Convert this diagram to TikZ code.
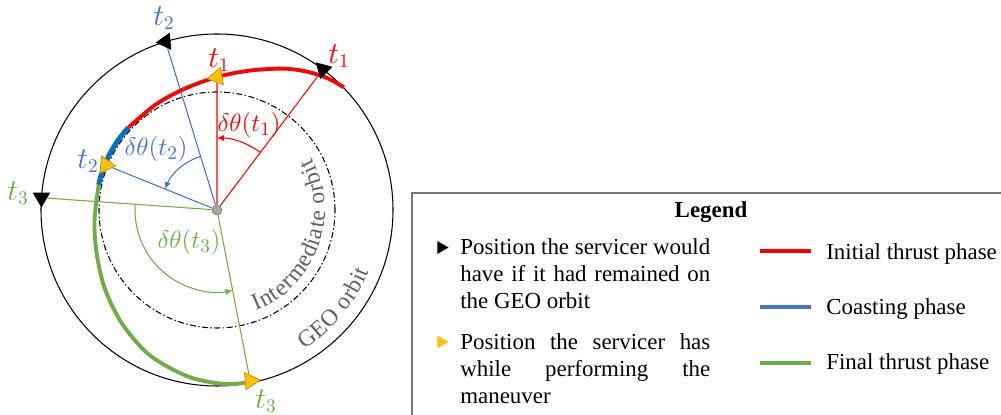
\documentclass[tikz,border=0pt]{standalone}
\usepackage{fontspec}
\setmainfont{Liberation Serif}
\usetikzlibrary{shapes.geometric,arrows.meta,decorations.text}
\pgfdeclarelayer{bg}
\pgfsetlayers{bg,main}
\definecolor{tred}{RGB}{255,0,0}
\definecolor{tblue}{RGB}{68,114,196}
\definecolor{tbluedark}{RGB}{0,112,192}
\definecolor{tgreen}{RGB}{112,173,71}
\definecolor{tyellow}{RGB}{255,192,0}
\definecolor{tyellowdark}{RGB}{191,144,0}
\definecolor{orbgray}{RGB}{96,96,96}
\definecolor{framegray}{RGB}{118,118,118}
\definecolor{dotgray}{RGB}{165,165,165}
\begin{document}
\begin{tikzpicture}[x=0.02cm,y=0.02cm,
  marker/.style={regular polygon, regular polygon sides=3, inner sep=0pt, minimum size=0.4cm},
  blackmark/.style={marker, fill=black},
  yellowmark/.style={marker, fill=tyellow, draw=tyellowdark, line width=0.4pt},
  thinline/.style={line width=0.6pt},
  thrust/.style={line width=2.2pt},
  lbl/.style={font=\fontsize{16pt}{19pt}\selectfont, inner sep=0pt},
  anglbl/.style={font=\fontsize{15pt}{18pt}\selectfont, inner sep=0pt},
  angarrow/.style={line width=0.6pt, -{Latex[length=4pt,width=3.5pt]}},
  legtext/.style={font=\fontsize{13.04pt}{15.3pt}\selectfont, inner sep=0pt, anchor=base west},
  legline/.style={line width=2.3pt},
  orbtext/.style={decorate, decoration={text along path, text color=orbgray, text align={fit to path},
     text={|\fontsize{13.4pt}{16pt}\selectfont|#1}}}
]
\useasboundingbox (0,0) rectangle (1001,415);
\begin{scope}[shift={(217,205)}]
  % centre and markers
  \node[circle, fill=dotgray, draw=gray, line width=0.4pt, minimum size=0.2cm, inner sep=0pt] (c) at (0,0) {};
  \node[blackmark, rotate=-195] (bt1) at (53:176) {};
  \node[blackmark, rotate=95] (bt2) at (107:176) {};
  \node[blackmark, rotate=-180] (bt3) at (176:176) {};
  \node[yellowmark, rotate=100] (yt1) at (90:133) {};
  \node[yellowmark, rotate=-95] (yt2) at (158:120) {};
  \node[yellowmark, rotate=-85] (yt3) at (281:174) {};
  \begin{pgfonlayer}{bg}
    \draw[thinline] (c.center) circle[radius=176];
    \draw[thinline, dash pattern=on 3.4pt off 1.4pt on 0.8pt off 1.4pt] (c.center) circle[radius=118];
    \draw[thinline, tred] (c) -- (bt1);
    \draw[thinline, tred] (c) -- (yt1);
    \draw[thinline, tblue] (c) -- (bt2);
    \draw[thinline, tblue] (c) -- (yt2);
    \draw[thinline, tgreen] (c) -- (bt3);
    \draw[thinline, tgreen] (c) -- (yt3);
    \draw[angarrow, tred] (53:72) arc[start angle=53, end angle=90, radius=72];
    \draw[angarrow, tblue] (107:56) arc[start angle=107, end angle=158, radius=56];
    \draw[angarrow, tgreen] (176:82) arc[start angle=176, end angle=281, radius=82];
    \draw[thrust, tred] plot[smooth] coordinates {(44:176.5) (50:172) (57:165) (65:156) (77:143) (90:133) (105:125.5) (120:122) (137:121)};
    \draw[thrust, tbluedark, line width=2.8pt] (137:121) arc[start angle=137, end angle=168, radius=121];
    \draw[thrust, tgreen] plot[smooth] coordinates {(168:121) (185:123) (200:128) (215:137) (230:148) (245:160) (260:169) (272:174) (281:175.5)};
  \end{pgfonlayer}
  \path[orbtext={Intermediate orbit}] (-69:108) arc[start angle=-69, end angle=29, radius=108];
  \path[orbtext={GEO orbit}] (-58:164) arc[start angle=-58, end angle=-22, radius=164];
\end{scope}
% labels
\node[lbl, text=tred] (lt1a) at (219,355) {$t_1$};
\node[lbl, text=tred] (lt1b) at (339,359) {$t_1$};
\node[lbl, text=tblue] (lt2a) at (164,397) {$t_2$};
\node[lbl, text=tblue] (lt2b) at (88,254) {$t_2$};
\node[lbl, text=tgreen] (lt3a) at (18,222) {$t_3$};
\node[lbl, text=tgreen] (lt3b) at (266,14) {$t_3$};
\node[anglbl, text=tred] (d1) at (249,290) {$\delta\theta(t_1)$};
\node[anglbl, text=tblue] (d2) at (156,266) {$\delta\theta(t_2)$};
\node[anglbl, text=tgreen] (d3) at (189,173) {$\delta\theta(t_3)$};
% legend
\draw[framegray, line width=1.1pt] (412,0) -- (412,222) -- (1001,222);
\node[font=\fontsize{13.04pt}{15pt}\selectfont\bfseries, anchor=base, inner sep=0pt] (legtitle) at (711,197) {Legend};
\node[marker, fill=black, minimum size=0.3cm, rotate=-90] (lgb) at (441,167.5) {};
\node[marker, fill=tyellow, minimum size=0.3cm, rotate=-90] (lgy) at (441,73) {};
\node[legtext] (lp1) at (460,160) {\parbox[t]{5cm}{\makebox[5cm][s]{Position the servicer would}\\\makebox[5cm][s]{have if it had remained on}\\the GEO orbit}};
\node[legtext] (lp2) at (460,65) {\parbox[t]{5cm}{\makebox[5cm][s]{Position the servicer has}\\\makebox[5cm][s]{while performing the}\\maneuver}};
\draw[legline, tred] (760,164) -- (811,164);
\draw[legline, tblue] (760,108) -- (811,108);
\draw[legline, tgreen] (760,52) -- (811,52);
\node[legtext] (li) at (826,155) {Initial thrust phase};
\node[legtext] (lc) at (826,100) {Coasting phase};
\node[legtext] (lf) at (826,45) {Final thrust phase};
\end{tikzpicture}
\end{document}
